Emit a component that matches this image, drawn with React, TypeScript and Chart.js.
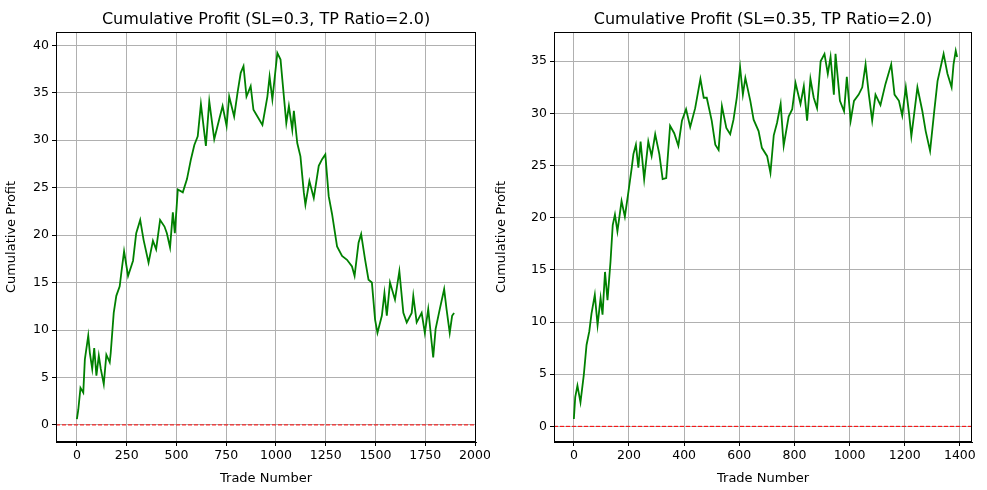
import React, { useEffect, useRef } from "react";
import { Chart, registerables } from "chart.js";
Chart.register(...registerables);

const tradesL = [0,7,18,32,40,57,65,77,87,98,110,120,135,148,165,170,185,198,215,223,237,257,282,298,318,335,360,382,398,418,440,452,468,482,492,507,532,553,573,590,607,623,648,665,690,715,732,752,765,790,807,823,837,852,873,887,907,932,957,968,982,1007,1023,1032,1052,1065,1082,1090,1107,1123,1140,1148,1168,1190,1215,1232,1248,1265,1282,1307,1332,1357,1382,1395,1415,1428,1448,1465,1482,1498,1510,1532,1545,1557,1573,1598,1620,1640,1657,1682,1690,1707,1732,1748,1765,1790,1802,1823,1845,1857,1873,1885,1895];
const profitL = [0.6,1.6,3.9,3.4,6.9,9.4,7.6,5.9,8.1,5.2,7.3,5.9,4.3,7.4,6.6,7.6,11.8,13.6,14.6,16.0,18.3,15.7,17.3,20.2,21.6,19.5,17.1,19.4,18.5,21.6,20.9,20.2,18.7,22.4,20.2,24.8,24.5,25.9,28.0,29.5,30.4,33.8,29.4,34.1,30.1,32.2,33.6,31.5,34.6,32.5,35.0,37.1,37.8,34.6,35.7,33.2,32.5,31.6,34.6,36.7,34.3,39.2,38.5,36.4,31.8,33.6,31.1,33.1,29.7,28.3,24.5,23.2,25.7,23.9,27.3,28.0,28.5,24.1,22.2,18.8,17.8,17.4,16.7,15.7,19.2,20.1,17.4,15.3,15.0,11.1,9.7,11.5,13.9,11.5,15.0,13.2,16.2,11.8,10.8,11.8,13.6,10.8,11.8,9.7,12.2,7.1,10.1,12.2,14.3,12.2,9.7,11.5,11.8];

const tradesR = [0,5,13,24,36,46,56,64,76,86,97,104,113,122,133,141,149,158,173,185,198,210,216,225,234,242,255,270,282,295,310,322,335,349,364,379,392,407,422,440,459,471,482,500,513,525,537,553,567,579,591,603,613,622,640,652,670,682,701,713,725,737,750,761,779,792,804,822,834,846,858,870,882,895,909,921,931,943,949,965,980,990,1004,1016,1033,1046,1058,1070,1082,1094,1112,1130,1151,1163,1179,1191,1204,1216,1224,1234,1246,1264,1276,1292,1307,1319,1330,1341,1355,1370,1377,1385,1390];
const profitR = [0.7,2.8,3.9,2.3,4.9,7.8,9.1,10.8,12.6,9.7,12.3,10.7,14.8,12.1,15.8,19.3,20.3,18.7,21.6,20.1,22.5,24.8,26.1,27.0,24.8,27.3,23.7,27.3,25.9,28.0,26.1,23.7,23.8,28.8,28.1,26.9,29.3,30.4,28.7,30.5,33.3,31.5,31.5,29.3,27.0,26.5,30.7,28.6,28.0,29.4,31.5,34.4,31.8,33.4,31.2,29.4,28.3,26.7,25.9,24.3,27.9,29.1,30.9,26.9,29.7,30.4,32.9,30.9,32.6,29.3,33.3,31.5,30.5,35.0,35.7,33.8,35.4,31.8,35.7,31.2,30.2,33.5,29.3,31.2,31.8,32.5,34.7,31.8,29.3,31.8,30.8,32.8,34.7,31.8,31.2,29.8,32.5,29.9,27.8,29.9,32.5,30.2,28.3,26.4,30.2,33.1,34.4,35.7,33.8,32.5,34.7,36.0,35.4];

const titles = ["Cumulative Profit (SL=0.3, TP Ratio=2.0)", "Cumulative Profit (SL=0.35, TP Ratio=2.0)"];

const FONT = "'DejaVu Sans', sans-serif";

const frame = {
  id: "frame",
  afterDatasetsDraw(chart: any) {
    const { ctx, chartArea: a } = chart;
    ctx.save();
    ctx.strokeStyle = "#000";
    ctx.lineWidth = 1;
    ctx.strokeRect(a.left + 0.5, a.top + 0.5, a.right - a.left - 1, a.bottom - a.top - 1);
    ctx.fillStyle = "#000";
    ctx.font = "16px " + FONT;
    ctx.textAlign = "center";
    ctx.textBaseline = "alphabetic";
    ctx.fillText(chart.options.plugins.frameTitle, (a.left + a.right) / 2, a.top - 8);
    ctx.restore();
  },
};

function makeCfg(trades: number[], profit: number[], title: string, o: any) {
  return {
    type: "line",
    data: {
      datasets: [
        {
          data: trades.map((t, i) => ({ x: t, y: profit[i] })),
          borderColor: "#008000",
          borderWidth: 1.8,
          pointRadius: 0,
          tension: 0,
        },
        {
          data: [{ x: o.xmin, y: 0 }, { x: o.xmax, y: 0 }],
          borderColor: "#ff0000",
          borderWidth: 1,
          borderDash: [4, 2],
          pointRadius: 0,
        },
      ],
    },
    options: {
      animation: false,
      responsive: false,
      layout: { padding: { left: 0, right: o.padRight, top: 32, bottom: 0 } },
      plugins: {
        legend: { display: false },
        tooltip: { enabled: false },
        title: { display: false },
        frameTitle: title,
      },
      scales: {
        x: {
          type: "linear",
          min: o.xmin,
          max: o.xmax,
          afterBuildTicks: (s: any) => {
            s.ticks = [];
            for (let v = 0; v <= o.xmax; v += o.xstep) s.ticks.push({ value: v });
          },
          afterFit: (s: any) => { s.height = 48; s.paddingLeft = 0; s.paddingRight = 0; },
          ticks: { color: "#000", font: { family: FONT, size: 12.5 }, padding: 2, maxRotation: 0, callback: (v: any) => String(v) },
          grid: { color: "#b0b0b0", tickColor: "#000", tickLength: 4, lineWidth: 1 },
          border: { color: "#000" },
          title: { display: true, text: "Trade Number", color: "#000", font: { family: FONT, size: 13 }, padding: { top: 2 } },
        },
        y: {
          type: "linear",
          min: o.ymin,
          max: o.ymax,
          afterBuildTicks: (s: any) => {
            s.ticks = [];
            for (let v = 0; v <= o.ymax; v += 5) s.ticks.push({ value: v });
          },
          afterFit: (s: any) => { s.width = o.yWidth; s.paddingTop = 0; s.paddingBottom = 0; },
          ticks: { color: "#000", font: { family: FONT, size: 12.5 }, padding: 3, callback: (v: any) => String(v) },
          grid: { color: "#b0b0b0", tickColor: "#000", tickLength: 4, lineWidth: 1 },
          border: { color: "#000" },
          title: { display: true, text: "Cumulative Profit", color: "#000", font: { family: FONT, size: 13 }, padding: { bottom: 2 } },
        },
      },
    },
    plugins: [frame],
  };
}

function Panel({ left, width, cfg }: any) {
  const ref = useRef<HTMLCanvasElement>(null);
  useEffect(() => {
    const c = new Chart(ref.current as any, cfg);
    return () => c.destroy();
  }, []);
  return (
    <canvas
      ref={ref}
      width={width}
      height={490}
      style={{ position: "absolute", left, top: 0, width, height: 490 }}
    />
  );
}

export default function App() {
  const cfgL = makeCfg(tradesL, profitL, titles[0], {
    xmin: -105, xmax: 2005, xstep: 250, ymin: -1.8, ymax: 41.4, padRight: 14, yWidth: 56,
  });
  const cfgR = makeCfg(tradesR, profitR, titles[1], {
    xmin: -72, xmax: 1444, xstep: 200, ymin: -1.5, ymax: 37.8, padRight: 15, yWidth: 64,
  });
  return (
    <div style={{ position: "fixed", left: 0, top: 0, width: 987, height: 490, background: "#fff" }}>
      <Panel left={0} width={490} cfg={cfgL} />
      <Panel left={490} width={497} cfg={cfgR} />
    </div>
  );
}
